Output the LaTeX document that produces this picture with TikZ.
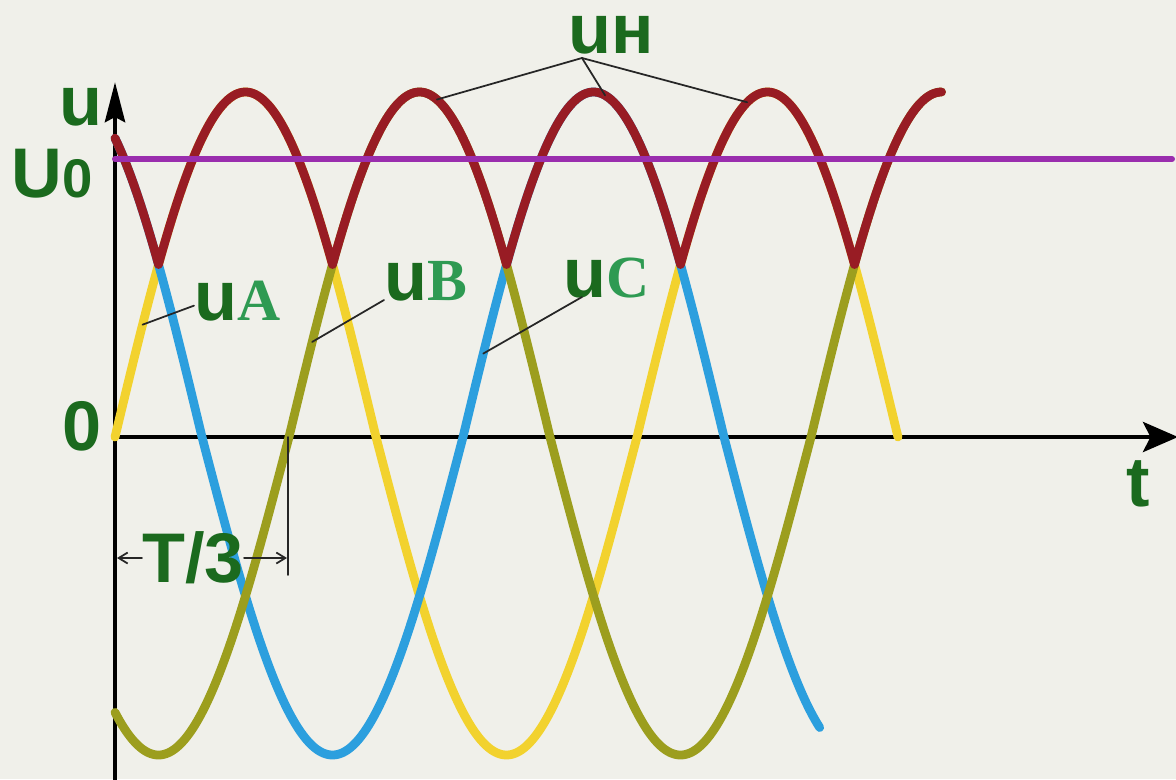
\documentclass[tikz,border=0pt]{standalone}
\usepackage{fontspec}
\setmainfont{Liberation Sans}
\newfontfamily\serifbf{Liberation Serif}
\usetikzlibrary{arrows.meta}
\definecolor{bgc}{HTML}{F0F0EA}
\definecolor{phA}{HTML}{F2D22E}
\definecolor{phB}{HTML}{9C9E1E}
\definecolor{phC}{HTML}{2C9FDE}
\definecolor{envc}{HTML}{981C24}
\definecolor{uzero}{HTML}{9A2EAE}
\definecolor{txtg}{HTML}{1B6A1E}
\definecolor{txtl}{HTML}{2E9A52}
\begin{document}
\begin{tikzpicture}[x=0.02cm, y=-0.02cm, line cap=round, line join=round,
    declare function={ph(\t)=(sin(\t)>0 ? 345 : 318)*sin(\t); px(\t)=115+1.45*\t;},
    wave/.style={line width=5pt, samples=571},
    lbl/.style={txtg, inner sep=0pt, font=\fontsize{40}{40}\selectfont\bfseries},
    phs/.style={txtl, font=\fontsize{34}{34}\selectfont\serifbf\bfseries},
    leader/.style={black!85, line width=1pt}]
        % 背景(1176x779 px)
        \useasboundingbox (0,0) rectangle (1176,779);
        \fill[bgc] (0,0) rectangle (1176,779);

        % 座標軸
        \draw[line width=2.8pt, -{Stealth[length=0.8cm, width=0.4cm, inset=0.1cm]}] (115,779) -- (115,82);
        \draw[line width=2.8pt, -{Stealth[length=0.7cm, width=0.6cm, inset=0.15cm]}] (115,437) -- (1178,437);

        % 三相の電圧 uA, uB, uC
        \draw[wave, phA] plot[domain=0:540] ({px(\x)}, {437-ph(\x)});
        \draw[wave, phC] plot[domain=0:486] ({px(\x)}, {437-ph(\x+120)});
        \draw[wave, phB] plot[domain=0:570] ({px(\x)}, {437-ph(\x-120)});

        % 包絡線 uн と U0
        \draw[wave, envc] plot[domain=0:570] ({px(\x)}, {437-345*max(sin(\x),sin(\x-120),sin(\x+120))});
        \draw[uzero, line width=3.4pt] (115,159) -- (1172,159);

        % 軸のラベル
        \node[lbl, anchor=base west] (lu) at (59,125) {u};
        \node[lbl, anchor=base west] (lU0) at (11,197) {U{\fontsize{31}{31}\selectfont 0}};
        \node[lbl, anchor=base west] (l0) at (62,450) {0};
        \node[lbl, anchor=base west] (lt) at (1126,506) {t};

        % 曲線のラベルと引出し線
        \node[lbl, anchor=base west] (lA) at (194,320) {u\textcolor{txtl}{\serifbf\fontsize{34}{34}\selectfont A}};
        \node[lbl, anchor=base west] (lB) at (384,300) {u\textcolor{txtl}{\serifbf\fontsize{34}{34}\selectfont B}};
        \node[lbl, anchor=base west] (lC) at (563,297) {u\textcolor{txtl}{\serifbf\fontsize{34}{34}\selectfont C}};
        \node[lbl, anchor=base west] (lN) at (568,53) {uн};
        \coordinate (pA) at ({px(19)}, {437-ph(19)});
        \coordinate (pB) at ({px(136)}, {437-ph(16)});
        \coordinate (pC) at ({px(254)}, {437-ph(14)});
        \coordinate (pN1) at ({px(222)}, {437-ph(102)});
        \coordinate (pN2) at ({px(338)}, {437-ph(98)});
        \coordinate (pN3) at ({px(436)}, {437-ph(76)});
        \draw[leader] ([yshift=-0.1cm]lA.west) -- (pA);
        \draw[leader] (lB.base west) -- (pB);
        \draw[leader] ([xshift=0.38cm]lC.base west) -- (pC);
        \draw[leader] ([xshift=0.28cm, yshift=-0.1cm]lN.base west) coordinate (nTop) -- (pN1);
        \draw[leader] (nTop) -- (pN2);
        \draw[leader] (nTop) -- (pN3);

        % T/3 の寸法線
        \node[lbl, anchor=base] (lT3) at (193,582) {T/3};
        \draw[leader] (288,437) -- (288,575);
        \draw[leader, -{Straight Barb[length=0.18cm, width=0.22cm]}] (lT3.west |- 0,558) -- (117,558);
        \draw[leader, -{Straight Barb[length=0.18cm, width=0.22cm]}] (lT3.east |- 0,558) -- (287,558);
    \end{tikzpicture}
\end{document}
